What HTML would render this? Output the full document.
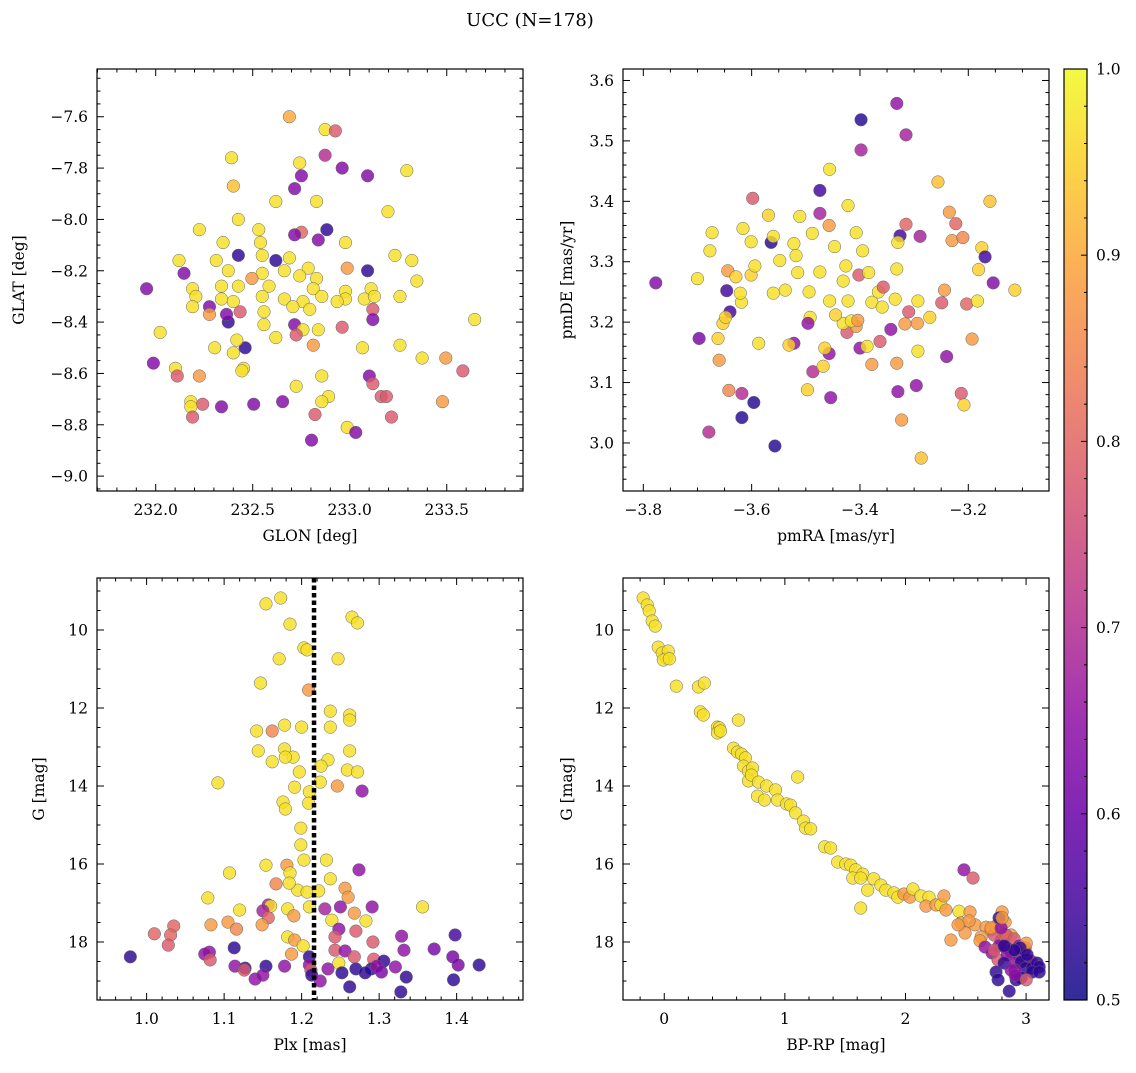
<!DOCTYPE html>
<html><head><meta charset="utf-8"><style>
body{margin:0;background:#fff;}
svg text{font-family:"DejaVu Serif","Liberation Serif",serif;fill:#000;}
</style></head><body>
<svg id="fig" width="1136" height="1068" viewBox="0 0 1136 1068" xmlns="http://www.w3.org/2000/svg">
<text x="530" y="26" font-size="18" text-anchor="middle">UCC (N=178)</text>
</svg>
<script>
// ---- Panel 1: GLON vs GLAT ----
const glon=[232.689,232.873,232.926,232.391,232.742,232.873,232.961,232.751,233.092,233.294,232.400,232.716,232.619,232.829,233.197,232.426,232.225,232.531,232.882,232.751,232.716,232.540,232.347,232.838,232.978,232.549,232.426,233.233,232.120,232.312,232.619,232.689,233.320,232.786,232.987,233.092,232.146,232.374,232.549,232.663,232.742,232.829,232.496,233.346,232.190,231.953,232.339,232.426,232.584,232.812,232.978,233.110,232.207,232.339,232.400,232.549,232.663,232.759,232.856,232.978,233.075,233.127,233.259,232.190,232.277,232.435,232.558,232.707,232.794,232.935,233.119,232.277,232.374,232.365,232.558,232.716,232.759,232.838,232.961,233.119,233.644,232.023,232.619,232.724,232.812,232.461,232.418,232.304,232.400,233.066,233.259,231.988,232.453,232.444,232.102,233.373,233.495,233.583,232.111,232.225,232.856,233.101,232.724,233.119,232.891,233.162,233.189,232.181,232.339,232.242,232.505,232.654,232.856,233.478,232.181,232.190,232.821,233.215,232.987,233.031,232.803];
const glat=[-7.60,-7.65,-7.655,-7.76,-7.78,-7.75,-7.80,-7.83,-7.83,-7.81,-7.87,-7.88,-7.93,-7.93,-7.97,-8.00,-8.04,-8.04,-8.04,-8.05,-8.06,-8.09,-8.09,-8.08,-8.09,-8.14,-8.14,-8.14,-8.16,-8.16,-8.16,-8.15,-8.16,-8.19,-8.19,-8.20,-8.21,-8.20,-8.21,-8.20,-8.22,-8.23,-8.23,-8.24,-8.27,-8.27,-8.26,-8.26,-8.26,-8.27,-8.28,-8.27,-8.30,-8.31,-8.32,-8.30,-8.31,-8.32,-8.30,-8.31,-8.31,-8.30,-8.30,-8.34,-8.34,-8.36,-8.36,-8.34,-8.35,-8.32,-8.35,-8.37,-8.40,-8.37,-8.41,-8.41,-8.43,-8.43,-8.42,-8.39,-8.39,-8.44,-8.46,-8.45,-8.49,-8.50,-8.47,-8.50,-8.52,-8.50,-8.49,-8.56,-8.58,-8.59,-8.58,-8.54,-8.54,-8.59,-8.61,-8.61,-8.61,-8.61,-8.65,-8.64,-8.69,-8.69,-8.69,-8.71,-8.73,-8.72,-8.72,-8.71,-8.71,-8.71,-8.73,-8.77,-8.76,-8.77,-8.81,-8.83,-8.86];
const prob1=[0.9,0.97,0.78,0.97,0.97,0.7,0.63,0.63,0.63,0.97,0.93,0.63,0.97,0.97,0.97,0.97,0.97,0.97,0.53,0.8,0.63,0.97,0.97,0.63,0.97,0.97,0.53,0.97,0.97,0.97,0.53,0.97,0.97,0.97,0.88,0.53,0.63,0.97,0.97,0.97,0.97,0.97,0.88,0.97,0.97,0.63,0.97,0.97,0.97,0.97,0.97,0.97,0.97,0.97,0.97,0.97,0.97,0.97,0.97,0.97,0.97,0.97,0.97,0.97,0.63,0.78,0.97,0.97,0.97,0.97,0.78,0.88,0.53,0.63,0.97,0.63,0.97,0.97,0.78,0.63,0.97,0.97,0.97,0.78,0.88,0.53,0.97,0.97,0.97,0.97,0.97,0.63,0.97,0.97,0.97,0.97,0.88,0.78,0.78,0.88,0.97,0.63,0.97,0.78,0.97,0.78,0.78,0.97,0.63,0.78,0.63,0.63,0.97,0.88,0.97,0.78,0.78,0.78,0.97,0.63,0.63];

// ---- Panel 2: pmRA vs pmDE ----
const pmra=[-3.332,-3.398,-3.315,-3.398,-3.160,-3.256,-3.777,-3.697,-3.662,-3.653,-3.700,-3.677,-3.673,-3.644,-3.629,-3.646,-3.640,-3.618,-3.557,-3.596,-3.618,-3.642,-3.679,-3.660,-3.601,-3.598,-3.601,-3.564,-3.560,-3.548,-3.511,-3.522,-3.474,-3.457,-3.456,-3.474,-3.488,-3.518,-3.515,-3.474,-3.426,-3.431,-3.456,-3.492,-3.522,-3.457,-3.487,-3.454,-3.424,-3.407,-3.400,-3.378,-3.431,-3.387,-3.378,-3.366,-3.359,-3.363,-3.402,-3.395,-3.422,-3.407,-3.384,-3.422,-3.416,-3.357,-3.332,-3.310,-3.317,-3.293,-3.293,-3.335,-3.326,-3.315,-3.289,-3.271,-3.332,-3.330,-3.323,-3.287,-3.294,-3.235,-3.230,-3.244,-3.223,-3.210,-3.203,-3.175,-3.169,-3.181,-3.183,-3.249,-3.193,-3.240,-3.213,-3.208,-3.154,-3.114,-3.404,-3.343,-3.447,-3.494,-3.538,-3.594,-3.616,-3.619,-3.560,-3.587,-3.531,-3.497,-3.468,-3.465,-3.445,-3.496,-3.296,-3.330,-3.621,-3.648,-3.569];
const pmde=[3.562,3.535,3.51,3.485,3.40,3.432,3.265,3.173,3.173,3.198,3.272,3.318,3.348,3.285,3.275,3.252,3.217,3.042,2.995,3.067,3.082,3.087,3.018,3.137,3.278,3.405,3.333,3.332,3.342,3.302,3.375,3.33,3.38,3.36,3.453,3.418,3.347,3.31,3.282,3.283,3.293,3.268,3.235,3.208,3.165,3.148,3.118,3.075,3.183,3.193,3.157,3.13,3.198,3.16,3.233,3.25,3.225,3.168,3.278,3.318,3.393,3.348,3.282,3.235,3.202,3.258,3.288,3.217,3.197,3.152,3.235,3.238,3.343,3.362,3.342,3.208,3.132,3.085,3.038,2.975,3.198,3.382,3.335,3.253,3.363,3.34,3.23,3.323,3.308,3.287,3.235,3.232,3.172,3.143,3.082,3.063,3.265,3.253,3.203,3.188,3.325,3.25,3.253,3.293,3.355,3.233,3.248,3.165,3.162,3.088,3.127,3.157,3.212,3.198,3.095,3.332,3.248,3.208,3.377];
const prob2=[0.65,0.52,0.68,0.68,0.93,0.93,0.63,0.62,0.95,0.95,0.97,0.97,0.97,0.88,0.95,0.55,0.55,0.52,0.52,0.52,0.7,0.85,0.7,0.88,0.95,0.78,0.97,0.52,0.97,0.97,0.97,0.97,0.68,0.88,0.97,0.55,0.97,0.97,0.97,0.97,0.97,0.97,0.97,0.97,0.65,0.65,0.7,0.65,0.78,0.88,0.65,0.88,0.97,0.97,0.97,0.97,0.97,0.78,0.78,0.97,0.97,0.97,0.97,0.97,0.97,0.78,0.97,0.78,0.88,0.97,0.97,0.97,0.55,0.8,0.68,0.95,0.88,0.65,0.88,0.93,0.88,0.88,0.88,0.88,0.8,0.85,0.8,0.95,0.55,0.95,0.97,0.78,0.88,0.65,0.78,0.95,0.63,0.95,0.88,0.65,0.97,0.97,0.97,0.97,0.97,0.97,0.97,0.97,0.95,0.95,0.95,0.95,0.95,0.65,0.65,0.97,0.97,0.95,0.95];

// ---- Panel 3: Plx vs G ----
const plx=[1.154,1.173,1.185,1.265,1.272,1.203,1.207,1.171,1.247,1.209,1.147,1.092,1.142,1.162,1.200,1.178,1.237,1.262,1.262,1.237,1.262,1.144,1.178,1.189,1.179,1.162,1.234,1.197,1.225,1.259,1.272,1.246,1.224,1.191,1.210,1.209,1.176,1.179,1.278,1.199,1.199,1.203,1.154,1.181,1.185,1.232,1.274,1.107,1.167,1.195,1.207,1.237,1.256,1.184,1.079,1.222,1.260,1.157,1.160,1.120,1.150,1.182,1.210,1.230,1.250,1.268,1.291,1.356,1.190,1.157,1.283,1.149,1.239,1.105,1.083,1.116,1.035,1.010,1.031,1.028,1.182,1.248,1.270,1.292,1.243,1.191,1.202,1.329,1.398,1.113,1.081,1.075,1.082,0.979,1.187,1.210,1.243,1.256,1.268,1.293,1.332,1.371,1.395,1.402,1.306,1.248,1.210,1.114,1.127,1.154,1.178,1.212,1.234,1.270,1.290,1.297,1.321,1.429,1.126,1.213,1.252,1.282,1.303,1.335,1.396,1.140,1.150,1.224,1.262,1.328];
const gmag3=[9.33,9.18,9.85,9.67,9.82,10.46,10.51,10.74,10.74,11.54,11.36,13.92,12.59,12.59,12.49,12.44,12.08,12.18,12.31,12.49,13.1,13.1,13.05,13.26,13.26,13.38,13.33,13.64,13.49,13.59,13.64,14.0,13.9,14.03,14.15,14.44,14.41,14.59,14.13,15.08,15.51,15.9,16.03,16.03,16.23,15.9,16.15,16.23,16.51,16.67,16.72,16.38,16.62,16.49,16.87,16.69,16.85,17.05,17.08,17.18,17.2,17.15,17.1,17.15,17.1,17.26,17.1,17.1,17.33,17.38,17.46,17.56,17.44,17.49,17.56,17.67,17.59,17.79,17.82,18.08,17.87,17.67,17.72,18.0,17.87,17.95,18.1,17.85,17.82,18.15,18.26,18.31,18.46,18.38,18.31,18.38,18.21,18.23,18.38,18.44,18.21,18.18,18.38,18.59,18.49,18.54,18.59,18.62,18.67,18.62,18.62,18.72,18.69,18.69,18.69,18.62,18.64,18.59,18.72,18.85,18.79,18.79,18.77,18.9,18.97,18.95,18.85,19.0,19.15,19.28];
const prob3=[0.97,0.97,0.97,0.97,0.97,0.97,0.97,0.97,0.97,0.88,0.97,0.97,0.97,0.85,0.97,0.97,0.97,0.97,0.97,0.97,0.97,0.97,0.97,0.97,0.97,0.97,0.97,0.97,0.97,0.97,0.97,0.88,0.97,0.97,0.97,0.97,0.97,0.97,0.65,0.97,0.97,0.97,0.97,0.88,0.97,0.97,0.65,0.97,0.85,0.97,0.97,0.97,0.88,0.97,0.97,0.97,0.88,0.68,0.97,0.97,0.68,0.97,0.97,0.68,0.65,0.88,0.65,0.97,0.88,0.8,0.97,0.88,0.97,0.88,0.88,0.85,0.8,0.8,0.8,0.78,0.97,0.65,0.78,0.78,0.78,0.88,0.97,0.65,0.55,0.53,0.65,0.65,0.78,0.53,0.88,0.53,0.78,0.65,0.78,0.78,0.65,0.62,0.62,0.62,0.53,0.97,0.65,0.65,0.53,0.53,0.65,0.78,0.65,0.53,0.53,0.65,0.65,0.53,0.78,0.53,0.53,0.53,0.62,0.53,0.53,0.65,0.65,0.65,0.53,0.53];
const plxMedian=1.216;

// ---- Panel 4: BP-RP vs G ----
const bprp=[-0.175,-0.141,-0.125,-0.1,-0.075,-0.05,-0.017,0.017,0.033,-0.008,0.042,0.1,0.283,0.332,0.299,0.324,0.441,0.457,0.441,0.466,0.615,0.574,0.607,0.64,0.673,0.657,0.698,0.698,0.732,0.723,0.781,0.848,0.923,0.773,0.831,0.939,1.014,1.106,1.047,1.089,1.155,1.172,1.214,1.33,1.38,1.438,1.505,1.546,1.588,1.646,1.563,1.629,1.737,1.687,1.796,1.837,1.904,1.937,1.629,1.987,2.037,2.062,2.128,2.195,2.17,2.253,2.294,2.319,2.336,2.485,2.444,2.535,2.461,2.577,2.668,2.627,2.71,2.56,2.793,2.494,2.527,2.876,2.436,2.818,2.618,2.377,2.735,2.835,2.776,2.901,2.66,2.718,2.835,2.943,2.984,2.876,2.768,2.843,2.934,3.001,2.818,2.909,2.959,3.042,2.993,3.051,3.092,3.109,2.909,2.751,2.876,3.051,3.109,2.959,2.768,2.918,2.86,2.909,3.001,2.993,2.735,2.751,2.826,2.801,3.001,2.951,2.901,3.009,2.818,2.71,2.776,2.793,2.801];
const gmag4=[9.18,9.36,9.51,9.77,9.9,10.44,10.59,10.72,10.54,10.77,10.74,11.44,11.46,11.36,12.1,12.18,12.49,12.51,12.64,12.59,12.31,13.03,13.13,13.18,13.28,13.49,13.62,13.87,13.54,13.72,13.9,14.0,14.1,14.26,14.36,14.36,14.46,13.77,14.49,14.69,14.9,15.08,15.1,15.56,15.59,15.95,16.0,16.03,16.15,16.26,16.36,16.36,16.38,16.67,16.54,16.67,16.74,16.85,17.13,16.77,16.85,16.64,16.82,16.85,17.08,17.05,17.05,16.82,17.18,16.15,17.21,17.23,17.51,17.56,17.62,17.87,17.69,16.36,17.95,17.77,17.46,17.82,17.56,17.82,17.97,17.95,17.82,17.82,18.1,17.92,18.13,18.28,18.13,18.1,18.21,18.26,18.46,18.33,18.33,18.44,18.54,18.54,18.51,18.49,18.67,18.67,18.54,18.64,18.72,18.77,18.72,18.77,18.77,18.92,18.97,18.97,19.26,18.85,18.97,18.15,18.21,17.59,17.49,17.23,18.03,18.15,18.21,18.33,18.1,17.64,17.38,17.64,17.38];
const prob4=[0.97,0.97,0.97,0.97,0.97,0.97,0.97,0.97,0.97,0.97,0.97,0.97,0.97,0.97,0.97,0.97,0.97,0.97,0.97,0.97,0.97,0.97,0.97,0.97,0.97,0.97,0.97,0.97,0.97,0.97,0.97,0.97,0.97,0.97,0.97,0.97,0.97,0.97,0.97,0.97,0.97,0.97,0.97,0.97,0.97,0.97,0.97,0.97,0.97,0.97,0.97,0.97,0.97,0.97,0.97,0.97,0.97,0.97,0.97,0.88,0.88,0.97,0.97,0.97,0.88,0.88,0.97,0.88,0.88,0.65,0.97,0.88,0.88,0.88,0.88,0.88,0.88,0.78,0.65,0.88,0.88,0.88,0.88,0.88,0.88,0.88,0.78,0.78,0.65,0.78,0.65,0.65,0.65,0.65,0.53,0.65,0.78,0.65,0.65,0.53,0.53,0.65,0.53,0.65,0.53,0.53,0.53,0.53,0.65,0.53,0.65,0.53,0.53,0.53,0.53,0.53,0.53,0.65,0.78,0.78,0.78,0.88,0.88,0.88,0.88,0.53,0.53,0.53,0.53,0.88,0.53,0.65,0.88];

// colorbar ticks
const cbTicks=[0.5,0.6,0.7,0.8,0.9,1.0];

const NS="http://www.w3.org/2000/svg";
const svg=document.getElementById('fig');
function mk(tag,attrs,parent){const e=document.createElementNS(NS,tag);for(const k in attrs)e.setAttribute(k,attrs[k]);(parent||svg).appendChild(e);return e;}
const stops=["#0d0887","#41049d","#6a00a8","#8f0da4","#b12a90","#cc4778","#e16462","#f2844b","#fca636","#fcce25","#f0f921"];
function hex(h){return [parseInt(h.substr(1,2),16),parseInt(h.substr(3,2),16),parseInt(h.substr(5,2),16)];}
function plasma(t){t=Math.max(0,Math.min(1,t));const f=t*10,i=Math.min(9,Math.floor(f)),r=f-i;const a=hex(stops[i]),b=hex(stops[i+1]);return `rgb(${Math.round(a[0]+(b[0]-a[0])*r)},${Math.round(a[1]+(b[1]-a[1])*r)},${Math.round(a[2]+(b[2]-a[2])*r)})`;}
function pcol(p){return plasma((p-0.5)/0.5);}
function fmt(v,d){let s=v.toFixed(d);if(v<0)s='\u2212'+s.slice(1);return s;}

function panel(cfg){
  const {name,L,T,R,B,xmin,xmax,ytop,ybot,xmaj,xmin_,ymaj,ymin_,xd,yd,xlabel,ylabel,xs,ys,ps}=cfg;
  const g=mk('g',{});
  
  
  const X=v=>L+(v-xmin)/(xmax-xmin)*(R-L);
  const Y=v=>T+(v-ytop)/(ybot-ytop)*(B-T);
  const clipId=name+'-clip';
  const cp=mk('clipPath',{id:clipId},g);mk('rect',{x:L,y:T,width:R-L,height:B-T},cp);
  const pts=mk('g',{'clip-path':`url(#${clipId})`},g);
  
  
  for(let i=0;i<xs.length;i++){
    const c=mk('circle',{cx:X(xs[i]),cy:Y(ys[i]),r:6.3,fill:pcol(ps[i]),'fill-opacity':0.82,stroke:'#666','stroke-width':0.5},pts);
    
    
  }
  if(cfg.vline!==undefined){
    const l=mk('line',{x1:X(cfg.vline),x2:X(cfg.vline),y1:T,y2:B,stroke:'#000','stroke-width':4.5,'stroke-dasharray':'4.5,3'},g);
    
    
  }
  mk('rect',{x:L,y:T,width:R-L,height:B-T,fill:'none',stroke:'#000','stroke-width':1.2},g);
  const tg=mk('g',{stroke:'#000','stroke-width':1},g);
  const lo=Math.min(xmin,xmax),hi=Math.max(xmin,xmax);
  for(let v=Math.ceil(lo/xmin_-1e-6)*xmin_;v<=hi+1e-9;v+=xmin_){
    const major=Math.abs(v/xmaj-Math.round(v/xmaj))<1e-4, len=major?7:3.5, x=X(v);
    mk('line',{x1:x,x2:x,y1:B,y2:B-len},tg);mk('line',{x1:x,x2:x,y1:T,y2:T+len},tg);
    if(major){const t=mk('text',{x:x,y:B+24,'font-size':15.5,'text-anchor':'middle'},g);t.textContent=fmt(v,xd);
      
      }
  }
  const ylo=Math.min(ytop,ybot),yhi=Math.max(ytop,ybot);
  for(let v=Math.ceil(ylo/ymin_-1e-6)*ymin_;v<=yhi+1e-9;v+=ymin_){
    const major=Math.abs(v/ymaj-Math.round(v/ymaj))<1e-4, len=major?7:3.5, y=Y(v);
    mk('line',{x1:L,x2:L+len,y1:y,y2:y},tg);mk('line',{x1:R,x2:R-len,y1:y,y2:y},tg);
    if(major){const t=mk('text',{x:L-9,y:y+5.5,'font-size':15.5,'text-anchor':'end'},g);t.textContent=fmt(v,yd);
      
      }
  }
  const xl=mk('text',{x:(L+R)/2,y:B+50,'font-size':15.5,'text-anchor':'middle'},g);xl.textContent=xlabel;
  
  
  const yx=cfg.ylx, yl=mk('text',{x:yx,y:(T+B)/2,'font-size':15.5,'text-anchor':'middle',transform:`rotate(-90 ${yx} ${(T+B)/2})`},g);yl.textContent=ylabel;
  
  
}
panel({name:'glon-glat-panel',L:97,T:69,R:523,B:491,xmin:231.6974,xmax:233.893,ytop:-7.414,ybot:-9.058,xmaj:0.5,xmin_:0.1,ymaj:0.2,ymin_:0.05,xd:1,yd:1,xlabel:'GLON [deg]',ylabel:'GLAT [deg]',xs:glon,ys:glat,ps:prob1,ylx:24});
panel({name:'proper-motion-panel',L:623,T:69,R:1049,B:491,xmin:-3.8375,xmax:-3.051,ytop:3.619,ybot:2.9205,xmaj:0.2,xmin_:0.05,ymaj:0.1,ymin_:0.02,xd:1,yd:1,xlabel:'pmRA [mas/yr]',ylabel:'pmDE [mas/yr]',xs:pmra,ys:pmde,ps:prob2,ylx:572});
panel({name:'parallax-magnitude-panel',L:97,T:578,R:523,B:1000,xmin:0.936,xmax:1.4856,ytop:8.667,ybot:19.487,xmaj:0.1,xmin_:0.02,ymaj:2,ymin_:0.5,xd:1,yd:0,xlabel:'Plx [mas]',ylabel:'G [mag]',xs:plx,ys:gmag3,ps:prob3,ylx:44,vline:plxMedian});
panel({name:'color-magnitude-panel',L:623,T:578,R:1049,B:1000,xmin:-0.342,xmax:3.19,ytop:8.667,ybot:19.487,xmaj:1,xmin_:0.2,ymaj:2,ymin_:0.5,xd:0,yd:0,xlabel:'BP-RP [mag]',ylabel:'G [mag]',xs:bprp,ys:gmag4,ps:prob4,ylx:572});

// colorbar
(function(){
  const L=1064,R=1087,T=69,B=1000;
  const cb=mk('g',{});
  
  
  const defs=mk('defs',{},cb);
  const gr=mk('linearGradient',{id:'cbgrad',x1:0,y1:1,x2:0,y2:0},defs);
  for(let i=0;i<=20;i++)mk('stop',{offset:i/20,'stop-color':plasma(i/20)},gr);
  mk('rect',{x:L,y:T,width:R-L,height:B-T,fill:'url(#cbgrad)','fill-opacity':0.85,stroke:'#000','stroke-width':1.2},cb);
  const Y=v=>B-(v-0.5)/0.5*(B-T);
  for(let k=0;k<=25;k++){const v=0.5+k*0.02,y=Y(v),maj=k%5===0;
    mk('line',{x1:R,x2:R-(maj?6:3),y1:y,y2:y,stroke:'#000','stroke-width':1},cb);}
  cbTicks.forEach(v=>{const t=mk('text',{x:R+9,y:Y(v)+5.5,'font-size':15.5},cb);t.textContent=v.toFixed(1);
    
    });
})();
</script>
</body></html>
